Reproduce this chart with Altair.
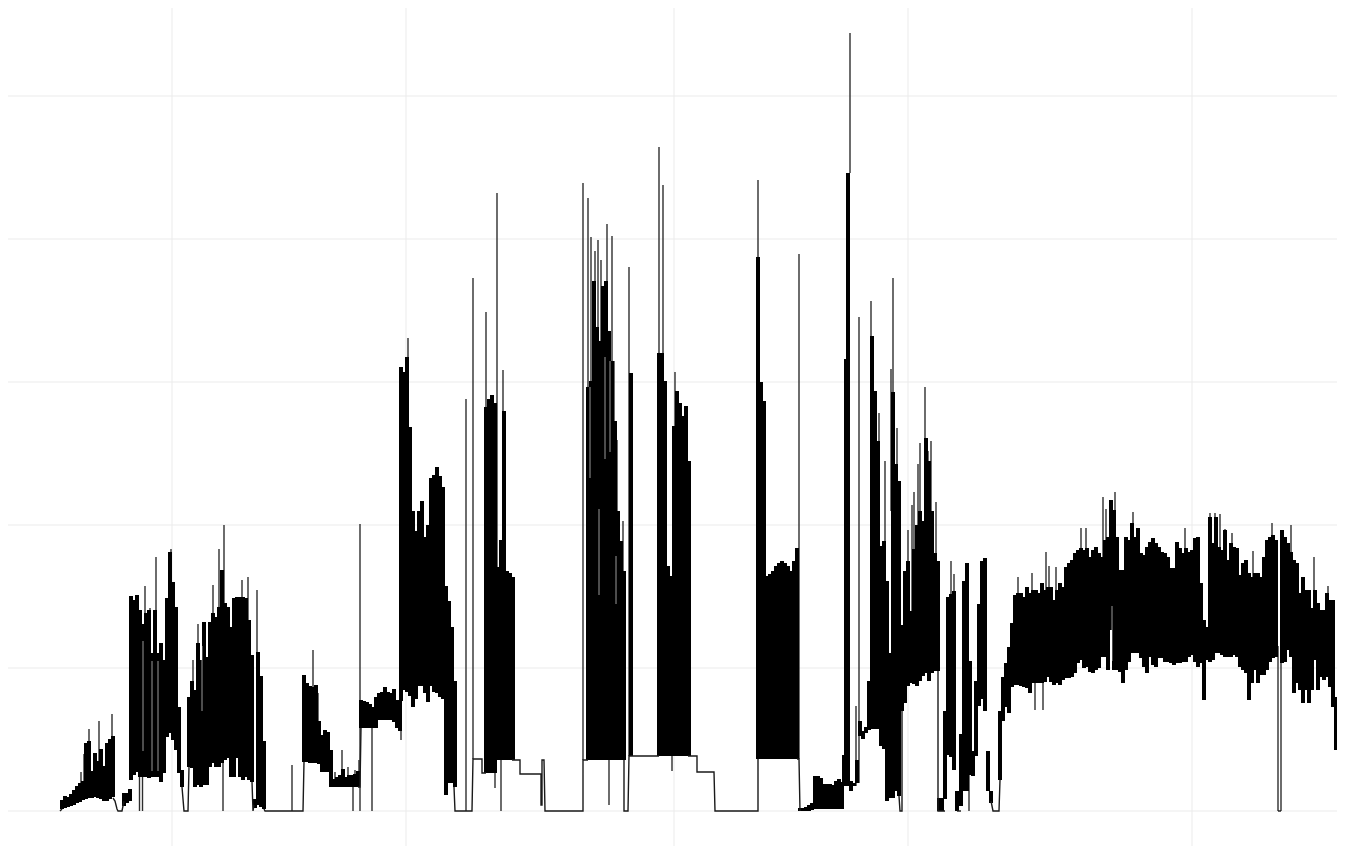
import altair as alt
import pandas as pd

# Vertical and horizontal reference positions (no labels in the picture)
x_grid = [172, 406, 674, 908, 1192]
y_grid = [0, 143, 286, 429, 572, 715]

# Dense sections: first sample, upper envelope, lower envelope (sampled every 3 units)
a_high = [11,15,14,17,21,25,28,30,68,70,40,58,50,62,45,68,72,75]
a_low = [2,3,4,5,6,8,9,11,12,13,13,14,13,12,10,10,12,14]
a2_high = [18,18,22]
a2_low = [5,8,10]
b_high = [215,211,216,201,187,198,201,158,201,158,168,151,213,259,229,204,104,41]
b_low = [31,36,39,34,34,34,33,34,34,34,29,38,74,78,71,61,38,24]
c_high = [114,130,121,168,151,189,154,189,198,194,204,241,208,204,184,213,214,214,214,213,191,156]
c_low = [44,43,24,26,24,26,26,44,48,44,44,48,51,53,34,34,53,34,31,34,31,29]
d_high = [12,159,135,70]
d_low = [3,6,4,2]
e_high = [136,128,125,124,126,90,76,81,79,61]
e_low = [49,49,48,48,48,47,39,39,39,24]
f_high = [30,32,34,36,42,34,36,36,37,40]
f_low = [24,24,24,24,24,24,24,24,24,24]
g_high = [111,110,109,107,104,114,118,119,124,119,118,122,111,110]
g_low = [83,83,83,83,83,83,91,91,91,91,91,89,83,80]
h_high = [444,439,454,384,300,280,300,310,274,286,333,336,344,335,324,225,210,184,130]
h_low = [110,121,119,115,104,112,125,125,118,109,125,119,118,114,112,16,28,28,24]
i_high = [404,412,416,408,244,271,400,240,238,234]
i_low = [38,38,38,38,51,51,51,51,51,51]
j_high = [424,430,530,484,470,525,530,480,450,390,300,270,240]
j_low = [51,51,51,51,51,51,51,51,51,51,51,51,51]
k_high = [458,458,430,245,235,385,420,408,395,405,350]
k_low = [55,55,55,55,55,55,55,55,55,55,55]
l_high = [554,429,410,235,237,240,245,248,250,248,245,240,250,263]
l_low = [52,52,52,52,52,52,52,52,52,52,52,52,52,52]
m_high = [3,3,4,6,8,35,35,33,27,27,27,26,30,32,29]
m_low = [0,0,0,0,1,2,2,2,2,2,2,2,2,2,2]
n0_high = [30,28,51]
n0_low = [20,25,28]
n_high = [90,80,84,130,475,420,370,265,270,230,158,419,347,330]
n_low = [75,72,78,81,82,82,82,65,62,10,13,13,20,15]
o_high = [186,240,250,200,262,286,300,290,373,350,300,258,250]
o_low = [100,108,125,128,127,125,130,135,138,130,138,140,140]
p_high = [13,13]
p_low = [0,0]
q_high = [100,214,217,220,20]
q_low = [12,56,54,41,0]
r_high = [77,230,248,150,60,130,207,250,253,60,20]
r_low = [5,20,20,36,35,55,105,112,100,20,8]
t_high = [100,134,148,164,188,216,218,218,214,224,
          218,221,221,218,228,221,224,224,211,221,
          228,224,244,248,251,258,261,263,261,263,
          254,261,264,258,254,271,274,311,301,274,
          241,241,274,271,288,274,283,258,256,264,
          269,273,268,264,259,258,254,243,243,269,
          263,258,263,259,261,273,274,228,191,184,
          294,268,294,264,261,281,251,268,264,263,
          236,248,251,238,234,238,238,234,254,271,
          274,276,271,0,281,274,268,259,251,248,
          218,234,221,221,203,221,208,201,201,218,
          211,211,114,62]
t_low = [31,90,104,98,124,126,126,125,124,123,
         118,128,128,128,128,129,134,129,126,128,
         126,131,133,133,134,138,148,151,143,144,
         139,138,141,143,154,154,141,181,141,141,
         139,128,141,149,158,158,158,153,144,138,
         154,146,144,153,153,149,149,148,146,148,
         148,149,149,154,156,149,144,148,111,151,
         149,151,158,158,156,154,154,154,156,154,
         144,141,138,111,128,141,128,136,136,141,
         149,153,154,0,148,149,161,154,118,128,
         121,108,121,108,121,151,121,134,131,134,
         124,104,61,1]

sections = [
    (62, a_high, a_low), (124, a2_high, a2_low), (131, b_high, b_low), (189, c_high, c_low), (255, d_high, d_low),
    (304, e_high, e_low), (331, f_high, f_low), (361, g_high, g_low), (401, h_high, h_low),
    (486, i_high, i_low), (588, j_high, j_low), (631, [438], [55]), (659, k_high, k_low),
    (758, l_high, l_low), (800, m_high, m_low), (844, [56], [25]), (846, [452], [25]),
    (848, [638], [25]), (851, n0_high, n0_low), (860, n_high, n_low), (902, o_high, o_low),
    (939, p_high, p_low), (945, q_high, q_low), (961, r_high, r_low), (1000, t_high, t_low),
]

# Isolated thin spikes: position, from, to
spikes = [
    (78,15,25),(81,15,39),(84,15,57),(89,30,82),(99,30,90),(112,30,97),
    (139.5,0,40),(142.5,0,40),(145,100,225),(150,100,203),(156,100,254),(171,100,262),
    (193,100,151),(198,100,187),(213,100,226),(219,100,262),(224,100,286),(242,100,231),
    (248,100,234),(223,0,50),(257,20,221),(292,0,46),(313,100,161),(318,80,118),
    (335,24,39),(342,24,61),(348,24,44),(355,24,41),(359,24,51),(353,0,24),(360,0,287),
    (372,0,90),(408,300,473),(401,71,90),(466,0,412),(473,52,533),(486,200,499),
    (497,200,618),(503,200,441),(501,0,51),(495,23,38),
    (583,51,628),(588,300,613),(591,300,574),(595,300,560),(598,300,571),(601,300,551),
    (607,300,587),(612,300,575),(614,300,450),(617,250,371),(623,200,290),(609,6,51),
    (629,55,544),(659,300,664),(663,300,626),(665,300,424),(675,300,439),(672,40,55),
    (758,300,631),(799,52,557),(850,638,778),(856,25,105),(859,28,494),
    (871,400,510),(879,300,398),(885,260,350),(891,300,442),(893,400,533),(897,300,383),
    (908,200,281),(912,200,306),(914,200,319),(918,280,347),(920,280,368),(925,300,424),
    (928,300,360),(931,280,370),(936,200,309),(951,200,250),(954,200,237),(969,0,60),
    (1018,200,234),(1032,200,238),(1046,200,259),(1049,200,245),(1056,200,244),
    (1081,240,283),(1086,240,283),(1103,250,314),(1106,250,302),(1115,260,319),
    (1133,260,299),(1185,240,283),(1210,260,298),(1215,260,298),(1220,260,297),
    (1225,250,282),(1232,250,278),(1253,230,260),(1272,260,288),(1291,250,286),
    (1314,220,254),(1328,200,225),(1278,0,165),(1281,0,165),
    (1035,101,130),(1043,101,130),
]

# Lighter streaks inside the solid sections: position, from, to
streaks = [
    (143,60,170),(152,40,150),(158,40,150),(202,100,165),(590,333,424),(599,216,302),
    (605,352,454),(610,359,450),(616,207,255),(1112,150,205),
]

# Stepped connecting runs between the dense sections
steps = [
    [(60,0),(62,2)],
    [(113,13),(115,10),(117,2),(118,0),(122,0),(124,10)],
    [(182,24),(184,0),(188,0),(189,44)],
    [(252,29),(253,0),(254,6)],
    [(264,2),(265,0),(303,0),(304,49)],
    [(358,24),(360,24),(361,83)],
    [(454,24),(455,0),(472,0),(473,52),(482,52),(482,38),(486,38)],
    [(512,51),(520,51),(520,37),(541,37),(541,6),(542,6),(542,51),(544,51),(545,0),(583,0),(583,51),(588,51)],
    [(624,51),(624,0),(628,0),(629,55),(659,55)],
    [(688,55),(697,55),(697,39),(714,39),(715,0),(758,0),(758,52)],
    [(797,52),(799,52),(800,0)],
    [(899,15),(900,0),(902,0),(902,100)],
    [(938,140),(938,0),(945,0)],
    [(957,0),(961,0)],
    [(991,10),(993,0),(999,0),(1000,31)],
    [(1278,0),(1281,0)],
]

band_rows = []
for start, highs, lows in sections:
    assert len(highs) == len(lows), start
    for i, (hi, lo) in enumerate(zip(highs, lows)):
        band_rows.append({"x": start + 3 * i, "lo": lo, "hi": hi})
bands = pd.DataFrame(band_rows)
spike_df = pd.DataFrame(spikes, columns=["x", "lo", "hi"])
streak_df = pd.DataFrame(streaks, columns=["x", "lo", "hi"])
step_df = pd.DataFrame(
    [{"run": r, "order": k, "x": p[0], "y": p[1]} for r, run in enumerate(steps) for k, p in enumerate(run)]
)
vgrid_df = pd.DataFrame({"x": x_grid})
hgrid_df = pd.DataFrame({"lo": y_grid})

x_scale = alt.Scale(domain=[8, 1337], nice=False, zero=False)
y_scale = alt.Scale(domain=[-35, 803], nice=False, zero=False)
X = alt.X("x:Q", scale=x_scale, axis=None)
Y = alt.Y("lo:Q", scale=y_scale, axis=None)

vgrid = alt.Chart(vgrid_df).mark_rule(color="#ebebeb", strokeWidth=1).encode(x=X)
hgrid = alt.Chart(hgrid_df).mark_rule(color="#ebebeb", strokeWidth=1).encode(y=Y)
band_layer = alt.Chart(bands).mark_rule(color="black", strokeWidth=4).encode(x=X, y=Y, y2="hi:Q")
spike_layer = alt.Chart(spike_df).mark_rule(color="#2e2e2e", strokeWidth=1.4).encode(x=X, y=Y, y2="hi:Q")
streak_layer = alt.Chart(streak_df).mark_rule(color="white", opacity=0.6, strokeWidth=1).encode(x=X, y=Y, y2="hi:Q")
step_layer = alt.Chart(step_df).mark_line(color="#1a1a1a", strokeWidth=1.4).encode(
    x=X,
    y=alt.Y("y:Q", scale=y_scale, axis=None),
    detail="run:N",
    order="order:Q",
)

chart = (
    alt.layer(vgrid, hgrid, spike_layer, band_layer, streak_layer, step_layer)
    .properties(width=1329, height=838, padding=0, background="white",
                autosize=alt.AutoSizeParams(type="none"))
    .configure_view(stroke=None)
)
chart.save("out.html", embed_options={"renderer": "svg", "actions": False})
